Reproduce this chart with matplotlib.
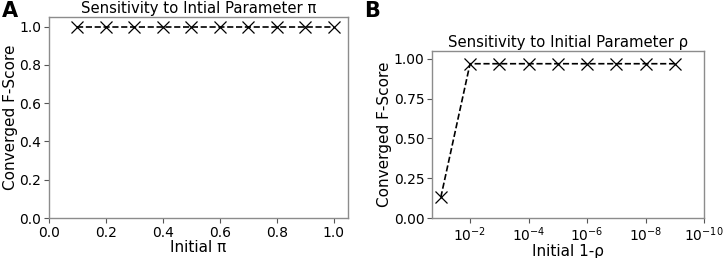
import numpy as np
import matplotlib
matplotlib.use("Agg")
import matplotlib.pyplot as plt

# panel A data
pi_init = [0.1, 0.2, 0.3, 0.4, 0.5, 0.6, 0.7, 0.8, 0.9, 1.0]
fscore_pi = [1.0, 1.0, 1.0, 1.0, 1.0, 1.0, 1.0, 1.0, 1.0, 1.0]

# panel B data
rho_init = [1e-1, 1e-2, 1e-3, 1e-4, 1e-5, 1e-6, 1e-7, 1e-8, 1e-9]
fscore_rho = [0.13, 0.97, 0.97, 0.97, 0.97, 0.97, 0.97, 0.97, 0.97]

W, H = 726, 258
fig = plt.figure(figsize=(W / 100, H / 100), dpi=100)

def px_axes(left, top, right, bottom):
    return fig.add_axes([left / W, 1 - bottom / H, (right - left) / W, (bottom - top) / H])

def style(ax):
    for s in ax.spines.values():
        s.set_color("#8c8c8c")
        s.set_linewidth(1.0)
    ax.tick_params(labelsize=10, color="#555555", length=3.5, width=0.8, pad=2)

line_kw = dict(color="black", linestyle="--", marker="x", markersize=8, markeredgewidth=0.9, linewidth=1.2)

axA = px_axes(49, 17, 348, 218)
axA.plot(pi_init, fscore_pi, **line_kw)
axA.set_xlim(0, 1.05)
axA.set_ylim(0, 1.05)
axA.set_xticks(np.arange(0, 1.01, 0.2))
axA.set_yticks(np.arange(0, 1.01, 0.2))
axA.set_title("Sensitivity to Intial Parameter \u03c0", fontsize=10.7, pad=3)
axA.set_xlabel("Initial \u03c0", fontsize=11, labelpad=0)
axA.set_ylabel("Converged F-Score", fontsize=11, labelpad=1)
style(axA)

axB = px_axes(432, 51, 704, 218)
axB.plot(rho_init, fscore_rho, **line_kw)
axB.set_xscale("log")
axB.set_xlim(0.2, 1e-10)
axB.set_ylim(0, 1.05)
axB.set_xticks([1e-2, 1e-4, 1e-6, 1e-8, 1e-10])
axB.minorticks_off()
axB.set_yticks([0, 0.25, 0.5, 0.75, 1.0])
axB.set_title("Sensitivity to Initial Parameter \u03c1", fontsize=10.7, pad=3)
axB.set_xlabel("Initial 1-\u03c1", fontsize=11, labelpad=0)
axB.set_ylabel("Converged F-Score", fontsize=11, labelpad=1)
style(axB)

fig.text(2 / W, 1 - 1 / H, "A", fontsize=15, fontweight="bold", va="top", ha="left")
fig.text(364 / W, 1 - 1 / H, "B", fontsize=15, fontweight="bold", va="top", ha="left")

fig.savefig("out.png", dpi=100)
